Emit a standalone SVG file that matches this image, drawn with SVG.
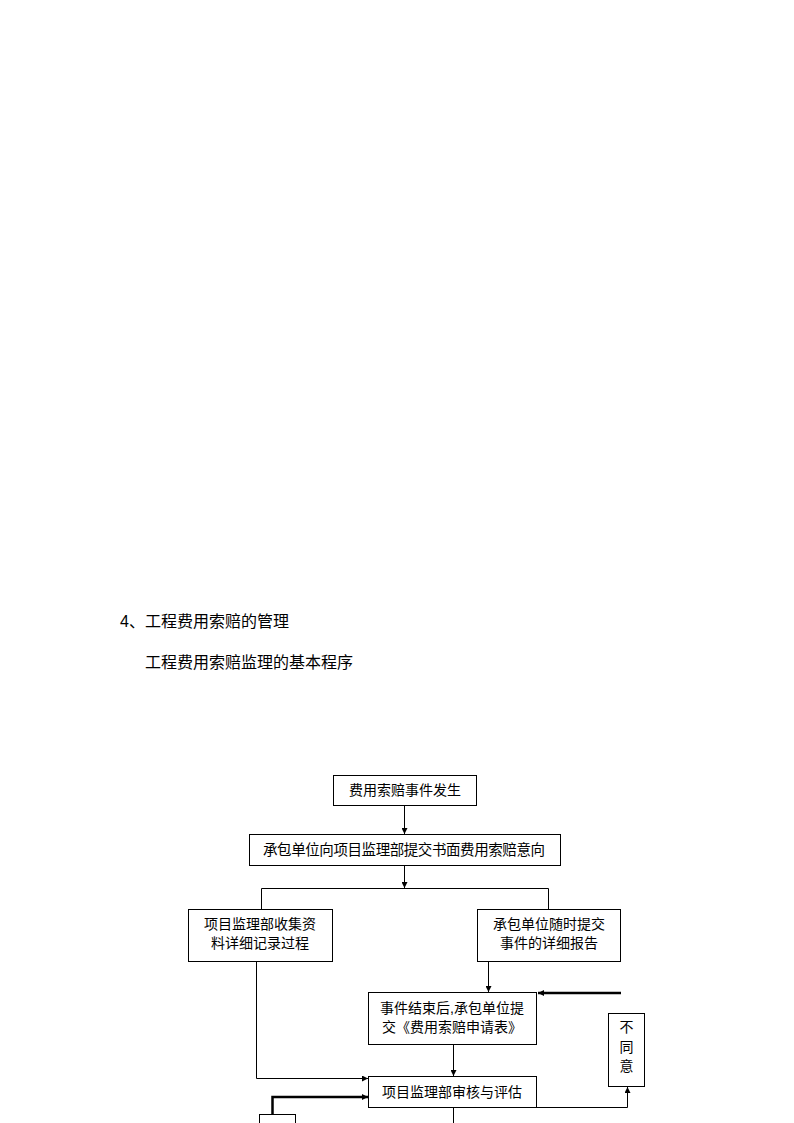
<svg xmlns="http://www.w3.org/2000/svg" width="794" height="1123" viewBox="0 0 794 1123">
<style>
text{font-family:"Liberation Sans","Noto Sans CJK SC",sans-serif;fill:#000}
.h{font-size:16px}
.t{font-size:14px;text-anchor:middle}
.box{fill:#fff;stroke:#000;stroke-width:1}
.ln{fill:none;stroke:#000;stroke-width:1}
.thk{fill:none;stroke:#000;stroke-width:2.5}
</style>
<defs>
<marker id="ar" markerWidth="6" markerHeight="6" refX="6" refY="3" orient="auto" markerUnits="userSpaceOnUse">
<path d="M0,0 L6,3 L0,6 Z" fill="#000"/>
</marker>
</defs>
<rect width="794" height="1123" fill="#fff"/>
<text class="h" x="120" y="627">4、工程费用索赔的管理</text>
<text class="h" x="145" y="668">工程费用索赔监理的基本程序</text>
<g id="connectors">
<line class="ln" x1="404.5" y1="805" x2="404.5" y2="834" marker-end="url(#ar)"/>
<line class="ln" x1="404.5" y1="866" x2="404.5" y2="888" marker-end="url(#ar)"/>
<polyline class="ln" points="261.5,909 261.5,888.5 548.5,888.5 548.5,909"/>
<polyline class="ln" points="256.5,961 256.5,1078.5 368,1078.5" marker-end="url(#ar)"/>
<line class="ln" x1="488.5" y1="961" x2="488.5" y2="992" marker-end="url(#ar)"/>
<line class="thk" x1="621" y1="993" x2="538" y2="993" marker-end="url(#ar)"/>
<line class="ln" x1="453.5" y1="1044" x2="453.5" y2="1076" marker-end="url(#ar)"/>
<polyline class="ln" points="536,1107.5 627.5,1107.5 627.5,1087" marker-end="url(#ar)"/>
<polyline class="thk" points="272.5,1114 272.5,1097 368,1097" marker-end="url(#ar)"/>
<line class="ln" x1="453.5" y1="1108" x2="453.5" y2="1123"/>
</g>
<g id="n1"><rect class="box" x="333.5" y="775.5" width="143" height="30"/><text class="t" x="405" y="795">费用索赔事件发生</text></g>
<g id="n2"><rect class="box" x="249.5" y="834.5" width="311" height="31"/><text x="263" y="855" style="font-size:14.5px" textLength="282" lengthAdjust="spacing">承包单位向项目监理部提交书面费用索赔意向</text></g>
<g id="n3"><rect class="box" x="188.5" y="909.5" width="144" height="52"/><text class="t" x="260" y="929">项目监理部收集资</text><text class="t" x="260" y="948">料详细记录过程</text></g>
<g id="n4"><rect class="box" x="477.5" y="909.5" width="143" height="52"/><text class="t" x="549" y="929">承包单位随时提交</text><text class="t" x="549" y="948">事件的详细报告</text></g>
<g id="n5"><rect class="box" x="368.5" y="992.5" width="168" height="52"/><text class="t" x="452" y="1013">事件结束后,承包单位提</text><text class="t" x="452" y="1032">交《费用索赔申请表》</text></g>
<g id="n6"><rect class="box" x="608.5" y="1013.5" width="36" height="73"/><text class="t" x="626.5" y="1032">不</text><text class="t" x="626.5" y="1052">同</text><text class="t" x="626.5" y="1071">意</text></g>
<g id="n7"><rect class="box" x="368.5" y="1076.5" width="168" height="31"/><text class="t" x="452" y="1097">项目监理部审核与评估</text></g>
<g id="n8"><rect class="box" x="259.5" y="1114.5" width="36" height="20"/></g>
</svg>
